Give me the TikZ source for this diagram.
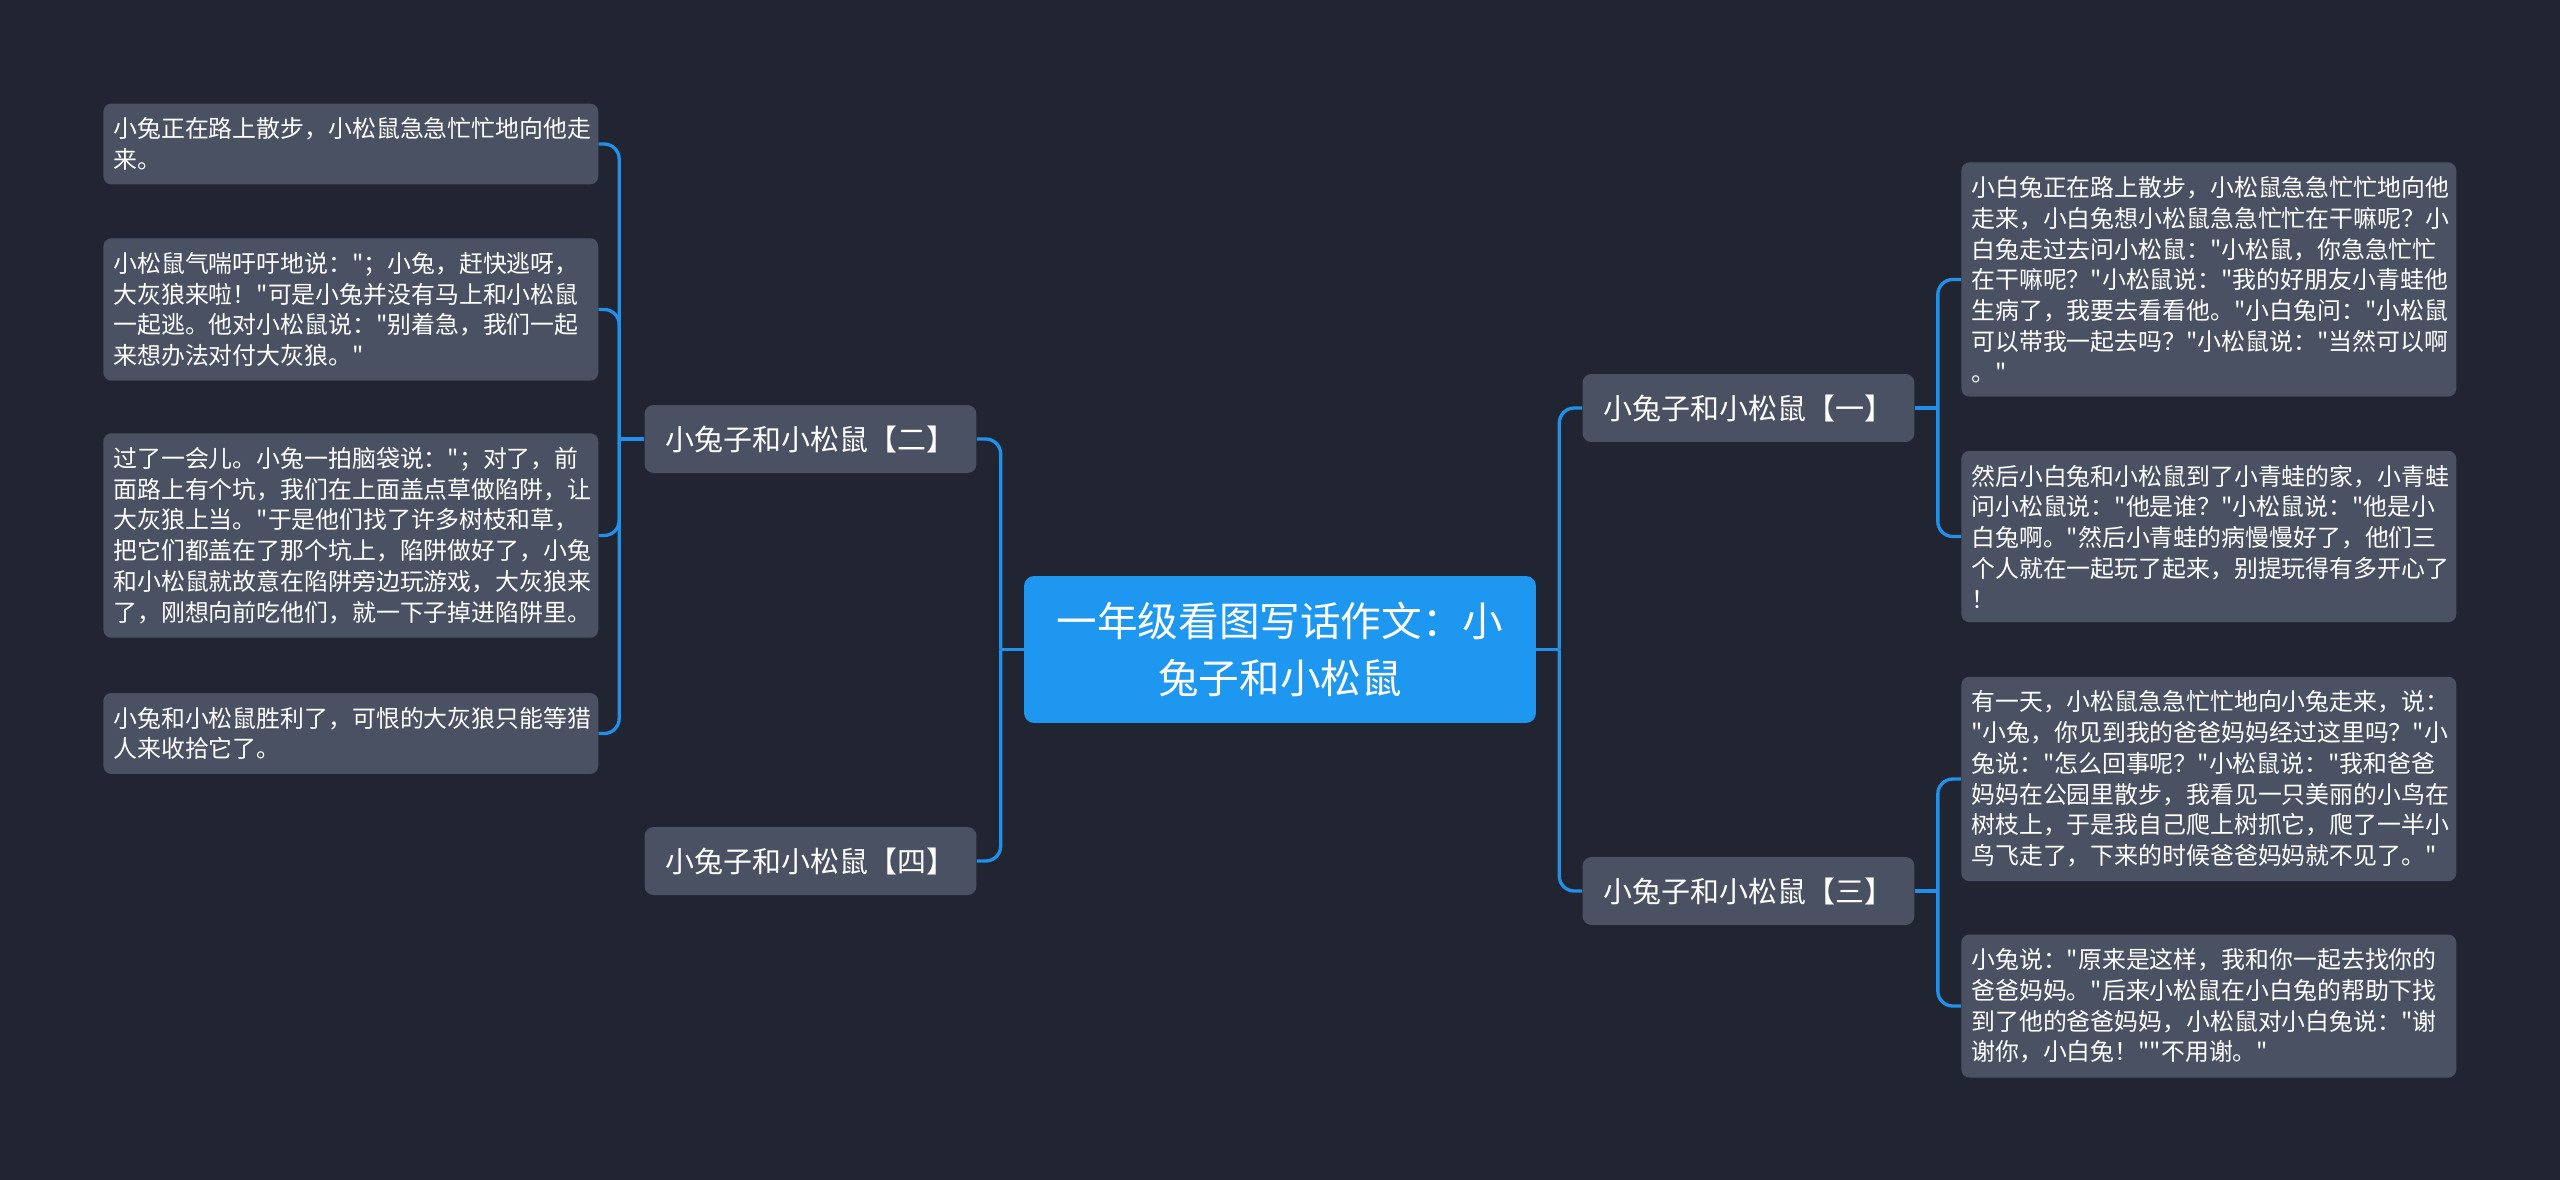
\documentclass[tikz,border=0pt]{standalone}
\usepackage{fontspec}
\newfontfamily\cjk{Noto Sans CJK SC}
\usepackage{tikz}
\usepackage{xcolor}
\definecolor{bgdark}{HTML}{212532}
\definecolor{boxgray}{HTML}{4A5163}
\definecolor{topicblue}{HTML}{1D97F0}
\definecolor{linkblue}{HTML}{2190E8}

\begin{document}
\begin{tikzpicture}[x=0.02cm, y=-0.02cm,
    topic/.style={fill=topicblue, rounded corners=0.2cm, text=white, align=center,
      minimum width=10.24cm, minimum height=2.94cm,
      font=\cjk\fontsize{23.1pt}{32.4pt}\selectfont},
    subtopic/.style={fill=boxgray, rounded corners=0.18cm, text=white,
      minimum width=6.64cm, minimum height=1.36cm,
      font=\cjk\fontsize{16.5pt}{20pt}\selectfont},
    leafbox/.style={fill=boxgray, rounded corners=0.16cm, text=white, align=left,
      text width=9.5cm, inner xsep=0.2cm, inner ysep=0.28cm,
      font=\cjk\fontsize{13.6pt}{17.5pt}\selectfont},
    link/.style={draw=linkblue, line width=1.9pt, rounded corners=0.3cm}]
    % fond
    \fill[bgdark] (0,0) rectangle (2560,1180);

    % centre
    \node[topic] (topic) at (1280,649.5) {一年级看图写话作文：小\\兔子和小松鼠};

    % branches
    \node[subtopic] (b1) at (1748.5,408) {小兔子和小松鼠【一】};
    \node[subtopic] (b3) at (1748.5,891) {小兔子和小松鼠【三】};
    \node[subtopic] (b2) at (810.5,439) {小兔子和小松鼠【二】};
    \node[subtopic] (b4) at (810.5,861) {小兔子和小松鼠【四】};

    % feuilles (gauche)
    \node[leafbox, anchor=west] (l2a) at (103,144) {小兔正在路上散步，小松鼠急急忙忙地向他走\\来。};
    \node[leafbox, anchor=west] (l2b) at (103,309.5) {小松鼠气喘吁吁地说："；小兔，赶快逃呀，\\大灰狼来啦！"可是小兔并没有马上和小松鼠\\一起逃。他对小松鼠说："别着急，我们一起\\来想办法对付大灰狼。"};
    \node[leafbox, anchor=west] (l2c) at (103,535.5) {过了一会儿。小兔一拍脑袋说："；对了，前\\面路上有个坑，我们在上面盖点草做陷阱，让\\大灰狼上当。"于是他们找了许多树枝和草，\\把它们都盖在了那个坑上，陷阱做好了，小兔\\和小松鼠就故意在陷阱旁边玩游戏，大灰狼来\\了，刚想向前吃他们，就一下子掉进陷阱里。};
    \node[leafbox, anchor=west] (l2d) at (103,733.5) {小兔和小松鼠胜利了，可恨的大灰狼只能等猎\\人来收拾它了。};

    % feuilles (droite)
    \node[leafbox, anchor=west] (l1a) at (1961,279.5) {小白兔正在路上散步，小松鼠急急忙忙地向他\\走来，小白兔想小松鼠急急忙忙在干嘛呢？小\\白兔走过去问小松鼠："小松鼠，你急急忙忙\\在干嘛呢？"小松鼠说："我的好朋友小青蛙他\\生病了，我要去看看他。"小白兔问："小松鼠\\可以带我一起去吗？"小松鼠说："当然可以啊\\。"};
    \node[leafbox, anchor=west] (l1b) at (1961,536.5) {然后小白兔和小松鼠到了小青蛙的家，小青蛙\\问小松鼠说："他是谁？"小松鼠说："他是小\\白兔啊。"然后小青蛙的病慢慢好了，他们三\\个人就在一起玩了起来，别提玩得有多开心了\\！};
    \node[leafbox, anchor=west] (l3a) at (1961,779) {有一天，小松鼠急急忙忙地向小兔走来，说：\\"小兔，你见到我的爸爸妈妈经过这里吗？"小\\兔说："怎么回事呢？"小松鼠说："我和爸爸\\妈妈在公园里散步，我看见一只美丽的小鸟在\\树枝上，于是我自己爬上树抓它，爬了一半小\\鸟飞走了，下来的时候爸爸妈妈就不见了。"};
    \node[leafbox, anchor=west] (l3b) at (1961,1006) {小兔说："原来是这样，我和你一起去找你的\\爸爸妈妈。"后来小松鼠在小白兔的帮助下找\\到了他的爸爸妈妈，小松鼠对小白兔说："谢\\谢你，小白兔！""不用谢。"};

    % liens
    \draw[link] (topic.west) -- ++(-23,0) coordinate (jl);
    \draw[link] (jl) |- (b2.east);
    \draw[link] (jl) |- (b4.east);
    \draw[link] (topic.east) -- ++(23,0) coordinate (jr);
    \draw[link] (jr) |- (b1.west);
    \draw[link] (jr) |- (b3.west);
    \draw[link] (b2.west) -- ++(-25,0) coordinate (j2);
    \foreach \n in {l2a,l2b,l2c,l2d} \draw[link] (j2) |- (\n.east);
    \draw[link] (b1.east) -- ++(23,0) coordinate (j1);
    \foreach \n in {l1a,l1b} \draw[link] (j1) |- (\n.west);
    \draw[link] (b3.east) -- ++(23,0) coordinate (j3);
    \foreach \n in {l3a,l3b} \draw[link] (j3) |- (\n.west);
\end{tikzpicture}
\end{document}
